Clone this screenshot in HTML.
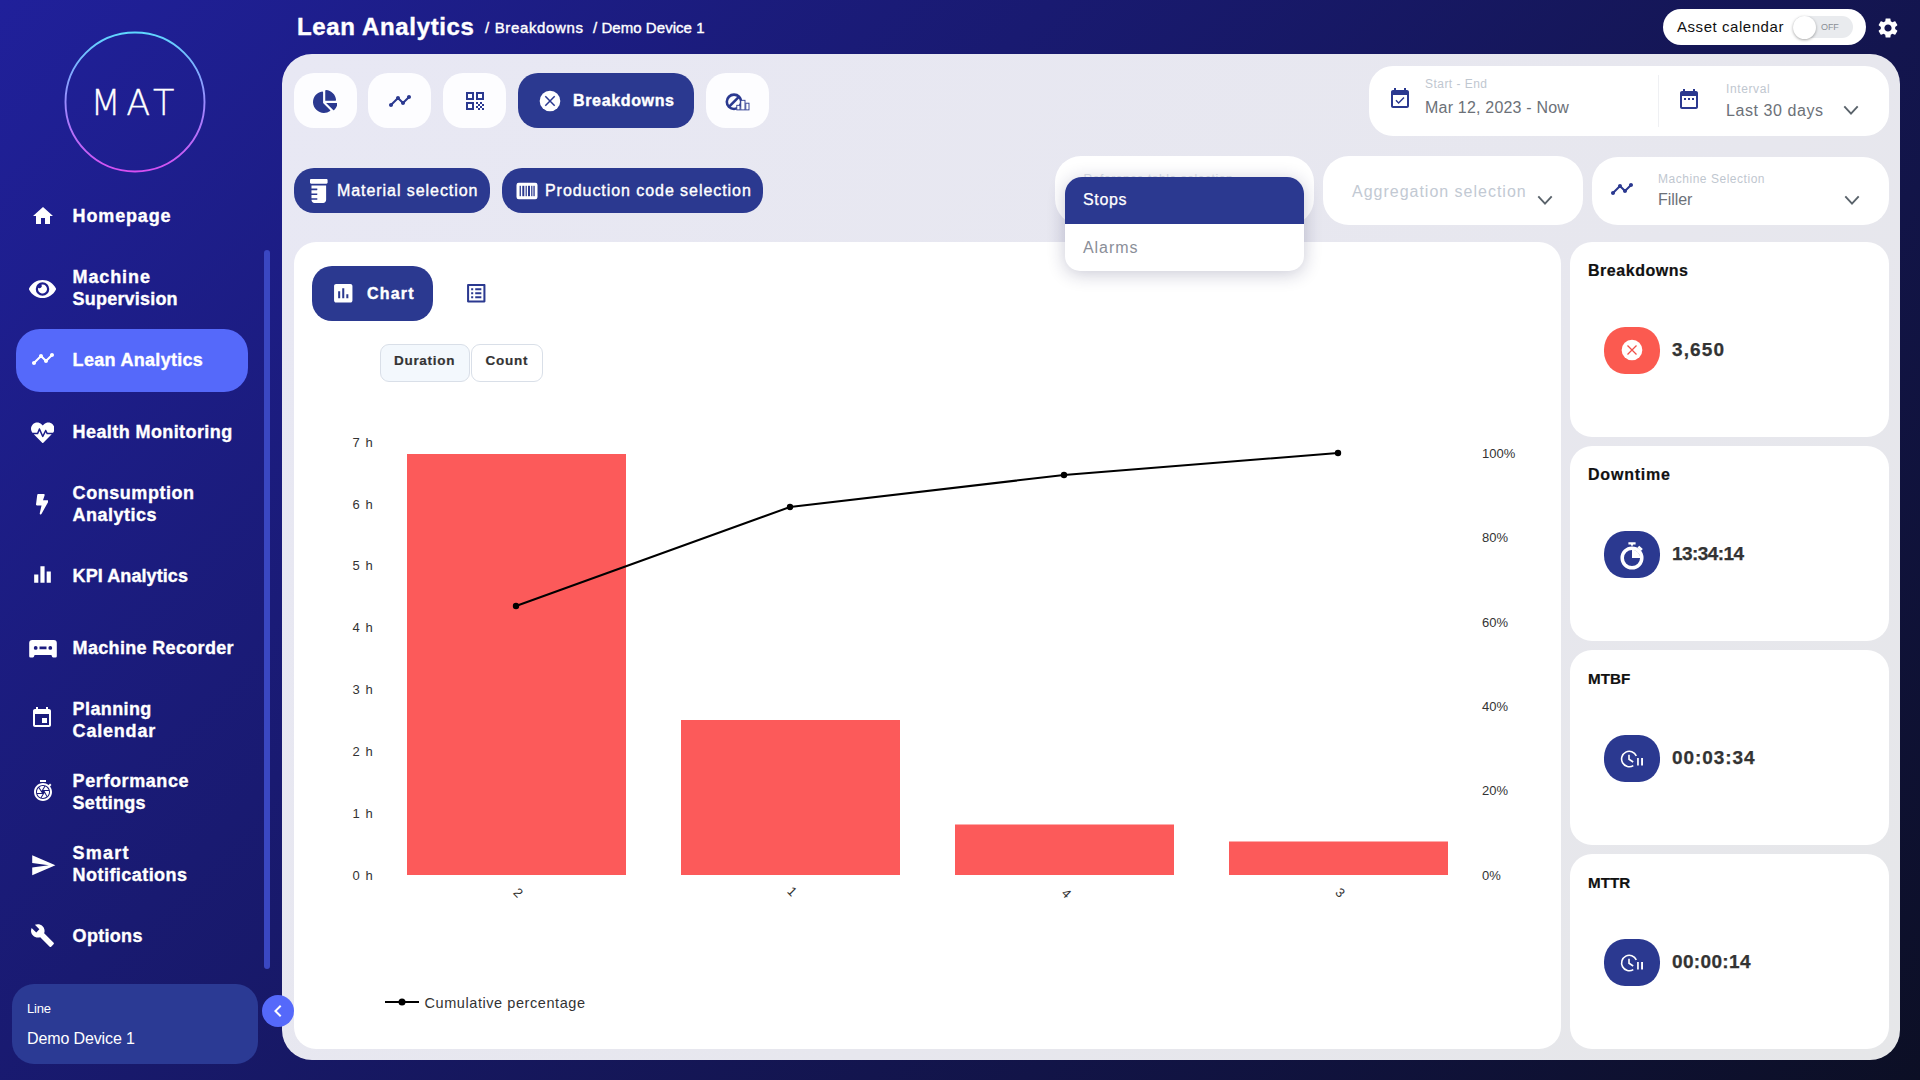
<!DOCTYPE html>
<html lang="en">
<head>
<meta charset="utf-8">
<title>Lean Analytics - Breakdowns</title>
<style>
*{box-sizing:border-box;margin:0;padding:0}
html,body{width:1920px;height:1080px;overflow:hidden}
body{font-family:"Liberation Sans",sans-serif;background:linear-gradient(135deg,#20209a 0%,#0c0f25 100%);position:relative;color:#fff}
.abs{position:absolute}
.md{-webkit-text-stroke:.4px currentColor}
.hv{-webkit-text-stroke:.4px currentColor}
.t{position:absolute;white-space:nowrap;line-height:1;transform:translateY(-50%)}
svg{display:block;position:absolute}
/* sidebar */
.nav{-webkit-text-stroke:.35px #fff;position:absolute;left:72.600px;font-weight:bold;font-size:18px;line-height:22px;transform:translateY(-50%);white-space:nowrap}
#active{left:16px;top:329px;width:232px;height:63px;border-radius:24px;background:#5569fa}
#scroll{left:264px;top:250px;width:6px;height:719px;border-radius:3px;background:#3a47c2}
#line{left:12px;top:984px;width:246px;height:80px;border-radius:22px;background:#2b3a94}
#collapse{left:262px;top:994.500px;width:32px;height:32px;border-radius:16px;background:#5569fa}
/* main */
#main{left:282px;top:54px;width:1618px;height:1006px;border-radius:30px;background:linear-gradient(135deg,#e8e8f4 0%,#e7e7ee 60%,#e6e7e9 100%)}
.tab{position:absolute;top:73px;height:55px;width:63px;border-radius:20px;background:#fdfdff}
.dark{background:#2b3990}
.card{position:absolute;background:#fff;border-radius:22px}
.pill{position:absolute;height:45px;top:168px;border-radius:20px;background:#2b3990}
.box{position:absolute;background:#fff;border-radius:26px}
.kp{position:absolute;left:1604px;width:56px;height:47px;border-radius:21px/22.500px;background:#2b3990}
.kt{-webkit-text-stroke:.2px #111;position:absolute;left:1588px;font-weight:bold;font-size:16px;color:#111;line-height:1;transform:translateY(-50%);white-space:nowrap}
.kv{-webkit-text-stroke:.25px #333;position:absolute;left:1672px;font-weight:bold;font-size:19px;color:#333;line-height:1;transform:translateY(-50%);white-space:nowrap}
.ax{font-family:"Liberation Sans",sans-serif;font-size:13px;fill:#333;letter-spacing:.4px}
</style>
</head>
<body>
<!-- SIDEBAR -->
<div id="sidebar">
<svg class="abs" style="left:60px;top:27px" width="150" height="150" viewBox="0 0 150 150"><defs><linearGradient id="lg" x1="0" y1="0" x2="0" y2="1"><stop offset="0" stop-color="#5fd8ff"/><stop offset=".5" stop-color="#9a8cff"/><stop offset="1" stop-color="#d64ff2"/></linearGradient></defs><circle cx="75" cy="75" r="69.5" fill="none" stroke="url(#lg)" stroke-width="1.9"/></svg>
<div class="t" id="mat" style="left:90.500px;top:103px;font-family:'DejaVu Sans','Liberation Sans',sans-serif;font-weight:200;font-size:35px;letter-spacing:5.500px;-webkit-text-stroke:.3px #fff">MAT</div>

<div class="abs" id="active"></div>
<div class="abs" id="scroll"></div>

<div class="nav" style="top:216px"><span style="letter-spacing:0.85px">Homepage</span></div>
<div class="nav" style="top:288px"><span style="letter-spacing:0.88px">Machine</span><br><span style="letter-spacing:0.2px">Supervision</span></div>
<div class="nav" style="top:360px"><span style="letter-spacing:0.3px">Lean Analytics</span></div>
<div class="nav" style="top:432px"><span style="letter-spacing:0.41px">Health Monitoring</span></div>
<div class="nav" style="top:504px"><span style="letter-spacing:0.55px">Consumption</span><br><span style="letter-spacing:0.49px">Analytics</span></div>
<div class="nav" style="top:576px"><span style="letter-spacing:0.08px">KPI Analytics</span></div>
<div class="nav" style="top:648px"><span style="letter-spacing:0.33px">Machine Recorder</span></div>
<div class="nav" style="top:720px"><span style="letter-spacing:0.39px">Planning</span><br><span style="letter-spacing:0.8px">Calendar</span></div>
<div class="nav" style="top:792px"><span style="letter-spacing:0.59px">Performance</span><br><span style="letter-spacing:0.27px">Settings</span></div>
<div class="nav" style="top:864px"><span style="letter-spacing:1.22px">Smart</span><br><span style="letter-spacing:0.45px">Notifications</span></div>
<div class="nav" style="top:936px"><span style="letter-spacing:0.3px">Options</span></div>

<div class="abs" id="line"></div>
<div class="t" style="left:27px;top:1008px;font-size:13px;letter-spacing:-0.16px">Line</div>
<div class="t" style="left:27px;top:1038.500px;font-size:16px;letter-spacing:-0.12px">Demo Device 1</div>
</div>

<!-- HEADER -->
<div class="t hv" id="h1" style="left:297px;top:27px;font-size:24px;font-weight:bold;letter-spacing:0.65px">Lean Analytics</div>
<div class="t md" id="bc1" style="left:485px;top:27px;font-size:15px;letter-spacing:0.65px">/ Breakdowns</div>
<div class="t md" id="bc2" style="left:593px;top:27px;font-size:15px;letter-spacing:0.05px">/ Demo Device 1</div>
<div class="abs" style="left:1663px;top:9px;width:203px;height:36px;border-radius:18px;background:#fff"></div>
<div class="t" id="asset" style="left:1677px;top:26.200px;font-size:15px;color:#111;letter-spacing:0.55px">Asset calendar</div>
<div class="abs" style="left:1793px;top:16px;width:60px;height:22px;border-radius:11px;background:#e9ebee"></div>
<div class="abs" style="left:1793px;top:15.5px;width:23px;height:23px;border-radius:50%;background:#fff;box-shadow:0 1px 3px rgba(0,0,0,.35)"></div>
<div class="t" style="left:1821px;top:27px;font-size:9px;color:#8a8f96;letter-spacing:-0.1px">OFF</div>

<!-- MAIN PANEL -->
<div class="abs" id="main"></div>
<div class="tab" style="left:294px"></div>
<div class="tab" style="left:368px"></div>
<div class="tab" style="left:443px"></div>
<div class="tab dark" style="left:518px;width:176px"></div>
<div class="tab" style="left:706px"></div>
<div class="t hv" id="bd" style="left:573px;top:101px;font-size:16px;font-weight:bold;letter-spacing:0.65px">Breakdowns</div>

<!-- date panel -->
<div class="box" style="left:1369px;top:66px;width:520px;height:70px;border-radius:24px"></div>
<div class="abs" style="left:1658px;top:75px;width:1px;height:52px;background:#eff0f3"></div>
<div class="t" style="left:1425px;top:84px;font-size:12px;color:#bfc7d0;letter-spacing:0.46px">Start - End</div>
<div class="t" id="dt" style="left:1425px;top:108px;font-size:16px;color:#6c7178;letter-spacing:0.2px">Mar 12, 2023 - Now</div>
<div class="t" style="left:1726px;top:89px;font-size:12px;color:#bfc7d0;letter-spacing:0.62px">Interval</div>
<div class="t" id="l30" style="left:1726px;top:110.5px;font-size:16px;color:#6c7178;letter-spacing:0.57px">Last 30 days</div>

<!-- second row -->
<div class="pill" style="left:294px;width:196px"></div>
<div class="pill" style="left:502px;width:261px"></div>
<div class="t md" id="ms" style="left:337px;top:191px;font-size:16px;letter-spacing:0.94px">Material selection</div>
<div class="t md" id="ps" style="left:545px;top:191px;font-size:16px;letter-spacing:0.94px">Production code selection</div>

<div class="box" style="left:1055px;top:156px;width:259px;height:69px"></div>
<div class="t" style="left:1083.500px;top:179.200px;font-size:12px;color:#d9dee6;letter-spacing:0.57px">Reference table selection</div>
<div class="box" style="left:1323px;top:156px;width:259.5px;height:69px"></div>
<div class="t" id="agg" style="left:1352px;top:192px;font-size:16px;color:#c2c9d3;letter-spacing:0.99px">Aggregation selection</div>
<div class="box" style="left:1592px;top:157px;width:297px;height:68px"></div>
<div class="t" style="left:1658px;top:179px;font-size:12px;color:#bfc7d0;letter-spacing:0.53px">Machine Selection</div>
<div class="t" style="left:1658px;top:200px;font-size:16px;color:#6c7178;letter-spacing:-0.05px">Filler</div>

<!-- chart card -->
<div class="card" style="left:294px;top:242px;width:1267px;height:807px;border-radius:22px"></div>
<div class="abs dark" style="left:312px;top:266px;width:121px;height:55px;border-radius:20px"></div>
<div class="t hv" id="chartt" style="left:367px;top:293.5px;font-size:16px;font-weight:bold;letter-spacing:1.2px">Chart</div>
<div class="abs" style="left:380px;top:344px;width:90px;height:38px;border-radius:9px;background:#f3f8fd;border:1px solid #d9dfe8"></div>
<div class="abs" style="left:471px;top:344px;width:72px;height:38px;border-radius:9px;background:#fff;border:1px solid #d9dfe8"></div>
<div class="t" id="dur" style="left:394px;top:361.200px;-webkit-text-stroke:.2px #333;font-size:13.500px;font-weight:bold;color:#333;letter-spacing:0.7px">Duration</div>
<div class="t" id="cnt" style="left:485.5px;top:361.200px;-webkit-text-stroke:.2px #333;font-size:13.5px;font-weight:bold;color:#333;letter-spacing:0.75px">Count</div>

<svg class="abs" style="left:294px;top:242px" width="1266" height="806" viewBox="294 242 1266 806">
<g fill="#fc5a5a">
<rect x="407" y="454" width="219" height="421"/>
<rect x="681" y="720" width="219" height="155"/>
<rect x="955" y="824.500" width="219" height="50.500"/>
<rect x="1229" y="841.500" width="219" height="33.500"/>
</g>
<polyline points="516,606 790,507 1064,475 1338,453" fill="none" stroke="#000" stroke-width="2" stroke-linejoin="round"/>
<g fill="#000"><circle cx="516" cy="606" r="3.2"/><circle cx="790" cy="507" r="3.2"/><circle cx="1064" cy="475" r="3.2"/><circle cx="1338" cy="453" r="3.2"/></g>
<g class="ax" text-anchor="end" style="letter-spacing:.3px;word-spacing:1.600px">
<text x="373" y="446.500">7 h</text><text x="373" y="508.500">6 h</text><text x="373" y="569.500">5 h</text><text x="373" y="631.500">4 h</text><text x="373" y="693.500">3 h</text><text x="373" y="755.500">2 h</text><text x="373" y="817.500">1 h</text><text x="373" y="879.500">0 h</text>
</g>
<g class="ax" style="letter-spacing:0">
<text x="1482" y="457.500">100%</text><text x="1482" y="541.500">80%</text><text x="1482" y="626.500">60%</text><text x="1482" y="710.500">40%</text><text x="1482" y="794.500">20%</text><text x="1482" y="879.500">0%</text>
</g>
<g class="ax" style="font-size:13px">
<text transform="translate(512.5,893.2) rotate(45)">2</text>
<text transform="translate(786.5,892) rotate(45)">1</text>
<text transform="translate(1060.8,893.9) rotate(45)">4</text>
<text transform="translate(1334.5,893.2) rotate(45)">3</text>
</g>
<line x1="385" y1="1002" x2="419" y2="1002" stroke="#000" stroke-width="2"/><circle cx="402" cy="1002" r="3.500" fill="#000"/>
<text x="424.500" y="1008" class="ax" id="cum" style="font-size:14.500px;letter-spacing:0.57px">Cumulative percentage</text>
</svg>

<!-- KPI cards -->
<div class="card" style="left:1569.700px;top:242px;width:319.300px;height:195.330px"></div>
<div class="card" style="left:1569.700px;top:445.93px;width:319.300px;height:195.330px"></div>
<div class="card" style="left:1569.700px;top:649.87px;width:319.300px;height:195.330px"></div>
<div class="card" style="left:1569.700px;top:853.8px;width:319.300px;height:195.330px"></div>
<div class="kt" style="top:271px;letter-spacing:0.54px">Breakdowns</div>
<div class="kt" style="top:475px;letter-spacing:0.79px">Downtime</div>
<div class="kt" style="top:679px;font-size:15.200px;letter-spacing:0.04px">MTBF</div>
<div class="kt" style="top:883px;font-size:15.200px;letter-spacing:0.04px">MTTR</div>
<div class="kp" style="top:327px;background:#fb5a50"></div>
<div class="kp" style="top:531px"></div>
<div class="kp" style="top:735px"></div>
<div class="kp" style="top:939px"></div>
<div class="kv" style="top:349px;letter-spacing:1.11px">3,650</div>
<div class="kv" style="top:553px;letter-spacing:-0.58px">13:34:14</div>
<div class="kv" style="top:757px;letter-spacing:0.93px">00:03:34</div>
<div class="kv" style="top:961px;letter-spacing:0.35px">00:00:14</div>

<div class="abs" id="collapse"></div>
<!-- sidebar icons -->
<svg style="left:30.6px;top:203.5px" width="24" height="24" viewBox="0 0 24 24" fill="#fff"><path d="M10 20v-6h4v6h5v-8h3L12 3 2 12h3v8z"/></svg>
<svg style="left:29.3px;top:277.2px" width="27" height="24" viewBox="0 0 576 512" fill="#fff" preserveAspectRatio="none"><path d="M572.520 241.400C518.290 135.590 410.930 64 288 64S57.680 135.640 3.480 241.410a32.350 32.350 0 0 0 0 29.190C57.710 376.410 165.070 448 288 448s230.320-71.640 284.520-177.410a32.350 32.350 0 0 0 0-29.190zM288 400a144 144 0 1 1 144-144 143.930 143.930 0 0 1-144 144zm0-240a95.310 95.310 0 0 0-25.310 3.790 47.850 47.850 0 0 1-66.900 66.900A95.780 95.780 0 1 0 288 160z"/></svg>
<svg style="left:30.5px;top:346.7px" width="24" height="24" viewBox="0 0 24 24" fill="#fff"><path d="M23 8c0 1.100-.9 2-2 2-.180 0-.350-.020-.510-.070l-3.560 3.550c.050.160.070.340.070.520 0 1.100-.9 2-2 2s-2-.9-2-2c0-.180.020-.360.070-.520l-2.550-2.550c-.160.050-.340.070-.520.070s-.360-.020-.520-.070l-4.550 4.560c.050.160.070.330.070.510 0 1.100-.9 2-2 2s-2-.9-2-2 .9-2 2-2c.180 0 .350.020.510.070l4.560-4.550C8.020 9.360 8 9.180 8 9c0-1.100.9-2 2-2s2 .9 2 2c0 .180-.020.360-.070.520l2.550 2.550c.160-.050.340-.070.520-.070s.360.020.520.070l3.550-3.560C19.020 8.350 19 8.180 19 8c0-1.100.9-2 2-2s2 .9 2 2z"/></svg>
<svg style="left:30.75px;top:421.45px" width="23.5" height="23.5" viewBox="0 0 512 512" fill="#fff" preserveAspectRatio="none"><path d="M320.200 243.800l-49.700 99.400c-6 12.100-23.400 11.700-28.900-.6l-56.900-126.300-30 71.700H60.600l182.500 186.500c7.100 7.300 18.600 7.300 25.700 0L451.400 288H342.300l-22.100-44.200zM473.700 73.900l-2.400-2.500c-51.500-52.600-135.800-52.600-187.400 0L256 100l-27.900-28.500c-51.500-52.700-135.900-52.700-187.400 0l-2.400 2.400C-10.400 123.700-12.500 203 31 256h102.400l35.900-86.200c5.400-12.900 23.600-13.200 29.400-.4l58.200 129.300 49-97.900c5.900-11.800 22.700-11.800 28.600 0l27.600 55.200H481c43.500-53 41.400-132.300-7.300-182.100z"/></svg>
<svg style="left:35.9px;top:494.3px" width="12.4" height="20.4" viewBox="0 0 320 512" fill="#fff" preserveAspectRatio="none"><path d="M296 160H180.600l42.600-129.800C227.200 15 215.700 0 200 0H56C44 0 33.800 8.900 32.200 20.800l-32 240C-1.700 275.200 9.500 288 24 288h118.700L96.600 482.500c-3.600 15.200 8 29.500 23.300 29.500 8.400 0 16.400-4.400 20.800-12l176-304c9.300-15.900-2.200-36-20.700-36z"/></svg>
<svg style="left:30px;top:561.9px" width="25" height="25" viewBox="0 0 24 24" fill="#fff"><path d="M10 20h4V4h-4v16zm-6 0h4v-8H4v8zM16 9v11h4V9h-4z"/></svg>
<svg style="left:29px;top:639px" width="28" height="20" viewBox="0 0 28 20" fill="#fff"><path fill-rule="evenodd" d="M3.200 1h21.600a3 3 0 0 1 3 3v13.200a1.300 1.300 0 0 1-1.300 1.300h-2.200a1.300 1.300 0 0 1-1.200-.8l-.7-1.700H5.600l-.7 1.700a1.300 1.300 0 0 1-1.200.8H1.500a1.300 1.300 0 0 1-1.300-1.300V4a3 3 0 0 1 3-3zM6.700 7a1.900 1.900 0 1 0 0 3.800 1.900 1.900 0 0 0 0-3.800zm14.600 0a1.900 1.900 0 1 0 0 3.800 1.900 1.900 0 0 0 0-3.800zM10.500 7.600v2.600h7V7.600z"/></svg>
<svg style="left:30.4px;top:705.9px" width="24" height="24" viewBox="0 0 24 24" fill="#fff"><path d="M17 12h-5v5h5v-5zM16 1v2H8V1H6v2H5c-1.110 0-1.990.9-1.990 2L3 19c0 1.100.890 2 2 2h14c1.100 0 2-.9 2-2V5c0-1.100-.9-2-2-2h-1V1h-2zm3 18H5V8h14v11z"/></svg>
<svg style="left:30.5px;top:778.8px" width="24" height="24" viewBox="0 0 24 24" fill="#fff"><path d="M15 1H9v2h6V1zm4.030 6.390l1.420-1.420c-.430-.510-.9-.990-1.410-1.410l-1.420 1.420C16.070 4.740 14.120 4 12 4c-4.970 0-9 4.030-9 9s4.020 9 9 9 9-4.030 9-9c0-2.120-.740-4.070-1.970-5.610zM12 20c-3.870 0-7-3.130-7-7s3.130-7 7-7 7 3.130 7 7-3.130 7-7 7zm-.320-5H6.350c.570 1.620 1.820 2.920 3.410 3.560l-.110-.060 2.030-3.500zm5.970-4c-.570-1.600-1.780-2.890-3.340-3.540L12.260 11h5.390zm-7.040 7.830c.450.110.910.170 1.390.170 1.340 0 2.570-.450 3.570-1.190l-2.110-3.900-2.850 4.920zM7.550 8.990C6.590 10.050 6 11.460 6 13c0 .340.040.670.090 1h4.720L7.550 8.990zm8.790 8.140C17.370 16.060 18 14.600 18 13c0-.340-.040-.670-.090-1h-4.340l2.770 5.130zm-3.010-9.980C12.900 7.060 12.460 7 12 7c-1.400 0-2.690.490-3.710 1.290l2.320 3.560 2.720-4.700z"/></svg>
<svg style="left:29.55px;top:852.25px" width="26.5" height="26.5" viewBox="0 0 24 24" fill="#fff"><path d="M2.010 21L23 12 2.010 3 2 10l15 2-15 2z"/></svg>
<svg style="left:30.1px;top:922.8px" width="25" height="25" viewBox="0 0 24 24" fill="#fff"><path d="M22.700 19l-9.100-9.100c.9-2.300.4-5-1.500-6.900-2-2-5-2.400-7.400-1.300L9 6 6 9 1.600 4.700C.4 7.100.9 10.100 2.900 12.100c1.900 1.900 4.600 2.400 6.900 1.500l9.100 9.100c.4.400 1 .400 1.400 0l2.300-2.300c.5-.4.500-1.100.100-1.400z"/></svg>
<svg style="left:265.6px;top:998.8px" width="24" height="24" viewBox="0 0 24 24" fill="#fff"><path d="M15.410 7.410L14 6l-6 6 6 6 1.410-1.410L10.830 12z"/></svg>
<!-- header icons -->
<svg style="left:1876.4px;top:16.3px" width="24" height="24" viewBox="0 0 24 24" fill="#fff"><path d="M19.140 12.940c.040-.300.060-.610.060-.940 0-.320-.020-.640-.070-.940l2.030-1.580c.180-.140.230-.410.120-.610l-1.920-3.320c-.120-.220-.370-.290-.590-.220l-2.390.960c-.5-.380-1.030-.700-1.620-.940l-.360-2.540c-.040-.240-.240-.410-.480-.410h-3.840c-.240 0-.430.170-.470.410l-.360 2.540c-.590.240-1.130.570-1.620.940l-2.390-.960c-.220-.080-.470 0-.590.220L2.740 8.870c-.120.210-.080.470.120.610l2.030 1.580c-.050.300-.090.630-.090.940s.020.640.070.940l-2.030 1.580c-.180.140-.230.410-.120.610l1.920 3.320c.120.220.370.290.590.220l2.390-.960c.5.380 1.030.700 1.620.940l.360 2.540c.050.240.240.410.480.410h3.840c.240 0 .440-.170.470-.410l.360-2.540c.590-.240 1.130-.560 1.620-.940l2.390.960c.220.080.470 0 .590-.220l1.920-3.320c.120-.220.070-.470-.120-.610l-2.010-1.580zM12 15.600c-1.980 0-3.600-1.620-3.600-3.600s1.620-3.600 3.600-3.600 3.600 1.620 3.600 3.600-1.620 3.600-3.600 3.600z"/></svg>
<!-- tab icons -->
<svg style="left:312.75px;top:89.5px" width="24.5" height="23" viewBox="0 0 544 512" fill="#2b3990" preserveAspectRatio="none"><path d="M527.790 288H290.500l158.030 158.030c6.040 6.040 15.980 6.530 22.190.680 38.700-36.460 65.320-85.610 73.130-140.860 1.340-9.460-6.510-17.850-16.060-17.850zm-15.830-64.800C503.720 103.740 408.260 8.280 288.800.040 279.680-.590 272 7.100 272 16.240V240h223.770c9.140 0 16.820-7.680 16.190-16.800zM224 288V50.710c0-9.550-8.390-17.400-17.840-16.060C86.990 51.490-4.100 155.600.140 280.370 4.500 408.510 114.830 513.590 243.030 511.980c50.400-.630 96.970-16.870 135.260-44.030 7.900-5.600 8.420-17.230 1.570-24.080L224 288z"/></svg>
<svg style="left:387.5px;top:88.5px" width="24" height="24" viewBox="0 0 24 24" fill="#2b3990"><path d="M23 8c0 1.100-.9 2-2 2-.180 0-.350-.020-.510-.070l-3.560 3.550c.050.160.070.340.070.520 0 1.100-.9 2-2 2s-2-.9-2-2c0-.180.020-.360.070-.520l-2.550-2.550c-.160.050-.340.070-.520.070s-.360-.020-.520-.070l-4.550 4.560c.050.160.070.330.070.510 0 1.100-.9 2-2 2s-2-.9-2-2 .9-2 2-2c.180 0 .350.020.510.070l4.560-4.550C8.020 9.360 8 9.180 8 9c0-1.100.9-2 2-2s2 .9 2 2c0 .180-.020.360-.070.520l2.550 2.550c.160-.050.340-.070.520-.070s.360.020.520.070l3.550-3.560C19.020 8.350 19 8.180 19 8c0-1.100.9-2 2-2s2 .9 2 2z"/></svg>
<svg style="left:462.5px;top:89px" width="24" height="24" viewBox="0 0 24 24" fill="#2b3990"><path d="M3 11h8V3H3v8zm2-6h4v4H5V5zM3 21h8v-8H3v8zm2-6h4v4H5v-4zM13 3v8h8V3h-8zm6 6h-4V5h4v4zM19 19h2v2h-2zM13 13h2v2h-2zM15 15h2v2h-2zM13 17h2v2h-2zM15 19h2v2h-2zM17 17h2v2h-2zM17 13h2v2h-2zM19 15h2v2h-2z"/></svg>
<svg style="left:538px;top:88.800px" width="24" height="24" viewBox="-12 -12 24 24"><circle r="10.300" fill="#fff"/><path d="M-4.700 -4.700L4.700 4.700M4.700 -4.700L-4.700 4.700" stroke="#2b3990" stroke-width="1.500"/></svg>
<svg style="left:722px;top:89px" width="32" height="26" viewBox="722 89 32 26"><circle cx="734" cy="101.800" r="7.200" fill="none" stroke="#2b3990" stroke-width="2.600"/><path d="M728.900 106.900L739.100 96.700" stroke="#2b3990" stroke-width="2.600"/><g fill="#fff" stroke="#2b3990" stroke-width=".9"><rect x="736.800" y="105.300" width="3.200" height="4.600"/><rect x="740.800" y="100.300" width="4.200" height="9.600"/><rect x="745.800" y="103.200" width="3.200" height="6.700"/></g></svg>
<!-- date icons -->
<svg style="left:1388px;top:86.8px" width="24" height="24" viewBox="0 0 24 24" fill="#2b3990"><path d="M16.530 11.060L15.470 10l-4.880 4.880-2.120-2.120-1.060 1.060L10.590 17l5.940-5.940zM19 3h-1V1h-2v2H8V1H6v2H5c-1.110 0-1.990.9-1.990 2L3 19c0 1.100.890 2 2 2h14c1.100 0 2-.9 2-2V5c0-1.100-.9-2-2-2zm0 16H5V8h14v11z"/></svg>
<svg style="left:1677px;top:87.2px" width="24" height="24" viewBox="0 0 24 24" fill="#2b3990"><path d="M9 11H7v2h2v-2zm4 0h-2v2h2v-2zm4 0h-2v2h2v-2zm2-7h-1V2h-2v2H8V2H6v2H5c-1.110 0-1.990.9-1.990 2L3 20c0 1.100.890 2 2 2h14c1.100 0 2-.9 2-2V6c0-1.100-.9-2-2-2zm0 16H5V9h14v11z"/></svg>
<svg style="left:1840.8px;top:99.6px" width="20" height="20" viewBox="-10 -10 20 20"><path d="M-6.7 -3.6L0 3.6L6.7 -3.6" fill="none" stroke="#5a636b" stroke-width="1.9"/></svg>
<svg style="left:1535px;top:190px" width="20" height="20" viewBox="-10 -10 20 20"><path d="M-6.7 -3.6L0 3.6L6.7 -3.6" fill="none" stroke="#5a636b" stroke-width="1.9"/></svg>
<svg style="left:1841.6px;top:190px" width="20" height="20" viewBox="-10 -10 20 20"><path d="M-6.7 -3.6L0 3.6L6.7 -3.6" fill="none" stroke="#5a636b" stroke-width="1.9"/></svg>
<svg style="left:1609.5px;top:176.5px" width="24" height="24" viewBox="0 0 24 24" fill="#2b3990"><path d="M23 8c0 1.100-.9 2-2 2-.180 0-.350-.020-.510-.070l-3.560 3.550c.050.160.070.340.070.520 0 1.100-.9 2-2 2s-2-.9-2-2c0-.180.020-.360.070-.520l-2.550-2.550c-.160.050-.340.070-.520.070s-.360-.020-.520-.070l-4.550 4.560c.050.160.070.330.070.510 0 1.100-.9 2-2 2s-2-.9-2-2 .9-2 2-2c.180 0 .350.020.510.070l4.560-4.550C8.020 9.360 8 9.180 8 9c0-1.100.9-2 2-2s2 .9 2 2c0 .180-.020.360-.070.520l2.550 2.550c.160-.050.340-.070.520-.070s.360.020.520.070l3.550-3.560C19.020 8.350 19 8.180 19 8c0-1.100.9-2 2-2s2 .9 2 2z"/></svg>
<!-- pill icons -->
<svg style="left:310px;top:178.9px" width="17.6" height="24" viewBox="0 0 384 480" fill="#fff" preserveAspectRatio="none"><path d="M32 192h120c4.400 0 8 3.600 8 8v16c0 4.400-3.600 8-8 8H32v64h120c4.400 0 8 3.600 8 8v16c0 4.400-3.600 8-8 8H32v64h120c4.400 0 8 3.600 8 8v16c0 4.400-3.600 8-8 8H32c0 35.300 28.700 64 64 64h192c35.300 0 64-28.700 64-64V128H32v64zM360 0H24C10.750 0 0 10.750 0 24v48c0 13.250 10.750 24 24 24h336c13.250 0 24-10.750 24-24V24c0-13.250-10.750-24-24-24z"/></svg>
<svg style="left:516px;top:182px" width="22" height="18" viewBox="0 0 22 18"><rect x=".5" y=".7" width="21" height="16.600" rx="2.200" fill="#fff"/><g fill="#2b3990"><rect x="3.600" y="3.800" width="1.300" height="10.400"/><rect x="6.300" y="3.800" width="2" height="10.400"/><rect x="9.600" y="3.800" width="1.200" height="10.400"/><rect x="12" y="3.800" width="2" height="10.400"/><rect x="15.200" y="3.800" width="1.200" height="10.400"/><rect x="17.400" y="3.800" width="1.300" height="10.400"/></g></svg>
<!-- chart card icons -->
<svg style="left:331.15px;top:281.05px" width="24.5" height="24.5" viewBox="0 0 24 24" fill="#fff"><path d="M19 3H5c-1.100 0-2 .9-2 2v14c0 1.100.9 2 2 2h14c1.100 0 2-.9 2-2V5c0-1.100-.9-2-2-2zM9 17H7v-7h2v7zm4 0h-2V7h2v10zm4 0h-2v-4h2v4z"/></svg>
<svg style="left:464.45px;top:280.75px" width="24.5" height="24.5" viewBox="0 0 24 24" fill="#2b3990"><path d="M19 5v14H5V5h14m1.100-2H3.900c-.5 0-.9.400-.9.900v16.200c0 .400.400.900.900.900h16.200c.400 0 .900-.5.900-.9V3.900c0-.5-.5-.9-.9-.9zM11 7h6v2h-6V7zm0 4h6v2h-6v-2zm0 4h6v2h-6zM7 7h2v2H7zm0 4h2v2H7zm0 4h2v2H7z"/></svg>
<!-- kpi icons -->
<svg style="left:1620px;top:338px" width="24" height="24" viewBox="-12 -12 24 24"><circle r="10.350" fill="#fff"/><path d="M-4.500 -4.500L4.500 4.500M4.500 -4.500L-4.500 4.500" stroke="#f0504a" stroke-width="1.300"/></svg>
<svg style="left:1616.900px;top:539.700px" width="30" height="32" viewBox="-15 -18 30 32"><circle r="9.800" fill="none" stroke="#fff" stroke-width="3.500"/><path d="M0 0V-8.300A8.300 8.300 0 0 1 8.300 0z M-3.600 -15.800h7.200v2.400h-2.300l-1.300 1.800-1.300-1.800h-2.300z M7.200 -12.200l3.600 3.300-1.900 2-3.600-3.300z" fill="#fff"/></svg>
<svg style="left:1617px;top:745.7px" width="30" height="26" viewBox="-12 -13 30 26"><path d="M7.300 -3.200A7.700 7.700 0 1 0 4.300 6.600" fill="none" stroke="#fff" stroke-width="1.600"/><path d="M0 -4.200V.2L4.200 3" fill="none" stroke="#fff" stroke-width="1.600"/><rect x="8.100" y="-1" width="1.700" height="7.500" fill="#fff"/><rect x="12.100" y="-1" width="1.900" height="7.500" fill="#fff"/></svg>
<svg style="left:1617px;top:949.7px" width="30" height="26" viewBox="-12 -13 30 26"><path d="M7.300 -3.200A7.700 7.700 0 1 0 4.300 6.600" fill="none" stroke="#fff" stroke-width="1.600"/><path d="M0 -4.200V.2L4.200 3" fill="none" stroke="#fff" stroke-width="1.600"/><rect x="8.100" y="-1" width="1.700" height="7.500" fill="#fff"/><rect x="12.100" y="-1" width="1.900" height="7.500" fill="#fff"/></svg>

<!-- dropdown -->
<div class="abs" style="left:1065px;top:177px;width:239px;height:94px;border-radius:17px 17px 15px 15px;background:#fff;box-shadow:0 3px 18px rgba(30,30,80,.24);overflow:hidden"><div style="height:47px;background:#2b3990"></div></div>
<div class="t" style="-webkit-text-stroke:.25px #fff;left:1083px;top:200px;font-size:16px;letter-spacing:0.64px">Stops</div>
<div class="t" style="left:1083px;top:248px;font-size:16px;color:#8a8e98;letter-spacing:0.94px">Alarms</div>
</body>
</html>
